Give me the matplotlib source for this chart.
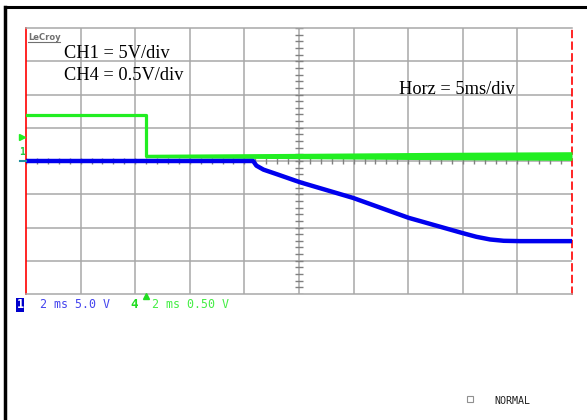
import numpy as np
import matplotlib
matplotlib.use("Agg")
import matplotlib.pyplot as plt
from matplotlib.lines import Line2D

# scope traces, in screen divisions (10 x 8)
ch4_x = [0.0, 2.2, 2.2, 10.0]
ch4_y = [5.38, 5.38, 4.15, 4.15]
ch4_noise_x = [2.2, 5.0, 7.5, 10.0]
ch4_noise = [0.05, 0.08, 0.11, 0.13]

ch1_x = [0.0, 4.16, 4.22, 4.35, 4.6, 5.02, 5.99, 7.01, 8.0, 8.25, 8.5, 8.75, 9.05, 10.0]
ch1_y = [4.0, 4.0, 3.86, 3.74, 3.6, 3.36, 2.89, 2.29, 1.83, 1.72, 1.64, 1.60, 1.59, 1.59]

W, H = 587, 420

def fx(x):
    return x / W

def fy(y):
    return 1 - y / H

fig = plt.figure(figsize=(W / 100, H / 100), dpi=100)
fig.patch.set_facecolor("white")

# page border
fig.add_artist(Line2D([fx(5), fx(587)], [fy(7), fy(7)], color="black", lw=2.2))
fig.add_artist(Line2D([fx(5), fx(5)], [fy(7), fy(420)], color="black", lw=2.5))

ax = fig.add_axes([fx(26), fy(294), fx(572) - fx(26), fy(28) - fy(294)])
ax.set_xlim(0, 10)
ax.set_ylim(0, 8)
ax.set_xticks([])
ax.set_yticks([])

grid_c = "#a8a8a8"
for gx in range(1, 10):
    ax.axvline(gx, color=grid_c, lw=1.1, zorder=1)
for gy in range(1, 8):
    ax.axhline(gy, color=grid_c, lw=1.1, zorder=1)

# minor ticks on the centre axes
ty = np.arange(0, 8.01, 0.2)
ax.hlines(ty, 5 - 0.07, 5 + 0.07, color="#808080", lw=1.0, zorder=1)
tx = np.arange(0, 10.01, 0.2)
ax.vlines(tx, 4 - 0.1, 4 + 0.1, color="#808080", lw=1.0, zorder=1)

for s in ["top", "bottom"]:
    ax.spines[s].set_color(grid_c)
    ax.spines[s].set_linewidth(1.1)
ax.spines["left"].set_color("red")
ax.spines["left"].set_linewidth(1.2)
ax.spines["right"].set_color("red")
ax.spines["right"].set_linewidth(1.2)
ax.spines["right"].set_linestyle((0, (4, 3)))

# traces
nx = np.array(ch4_noise_x)
nb = np.array(ch4_noise)
ax.fill_between(nx, 4.15 - nb, 4.15 + nb, color="#22ee22", lw=0, zorder=3)
ax.plot(ch4_x, ch4_y, color="#22ee22", lw=2.3, zorder=3)
ax.plot(ch1_x, ch1_y, color="#0000ee", lw=3.2, zorder=4, solid_joinstyle="round")

# annotations
serif = "Liberation Serif"
fig.text(fx(64), fy(53), "CH1 = 5V/div", family=serif, fontsize=13.2, va="center", ha="left")
fig.text(fx(64), fy(76), "CH4 = 0.5V/div", family=serif, fontsize=13.2, va="center", ha="left")
fig.text(fx(399), fy(90), "Horz = 5ms/div", family=serif, fontsize=13.2, va="center", ha="left")

fig.text(fx(28), fy(37), "LeCroy", family="DejaVu Sans", fontsize=6, color="#707070",
         va="center", ha="left", weight="bold")
fig.add_artist(Line2D([fx(28), fx(60)], [fy(42), fy(42)], color="#707070", lw=0.8))

# left channel markers
fig.add_artist(Line2D([fx(22)], [fy(137)], marker=">", color="#22ee22", ms=5, lw=0))
fig.text(fx(22), fy(152), "1", family="DejaVu Sans Mono", fontsize=7, color="#22cc44",
         va="center", ha="center", weight="bold")
fig.add_artist(Line2D([fx(20), fx(26)], [fy(161), fy(161)], color="#2090a0", lw=1.5))

# bottom status line
mono = "DejaVu Sans Mono"
fig.text(fx(20), fy(305), "1", family=mono, fontsize=8.5, color="white", va="center", ha="center",
         weight="bold", bbox=dict(boxstyle="square,pad=0.05", fc="#0000cc", ec="none"))
fig.text(fx(40), fy(305), "2 ms 5.0 V", family=mono, fontsize=8.4, color="#4444ee", va="center", ha="left")
fig.text(fx(134), fy(305), "4", family=mono, fontsize=9, color="#22dd22", va="center", ha="center",
         weight="bold")
fig.add_artist(Line2D([fx(146)], [fy(296)], marker="^", color="#22dd22", ms=4, lw=0))
fig.text(fx(152), fy(305), "2 ms 0.50 V", family=mono, fontsize=8.4, color="#44ee44", va="center", ha="left")

fig.add_artist(Line2D([fx(470)], [fy(399)], marker="s", ms=5, mfc="white", mec="#909090", mew=0.8, lw=0))
fig.text(fx(494), fy(401), "NORMAL", family=mono, fontsize=7.2, color="#202020", va="center", ha="left")

fig.savefig("out.png", dpi=100)
